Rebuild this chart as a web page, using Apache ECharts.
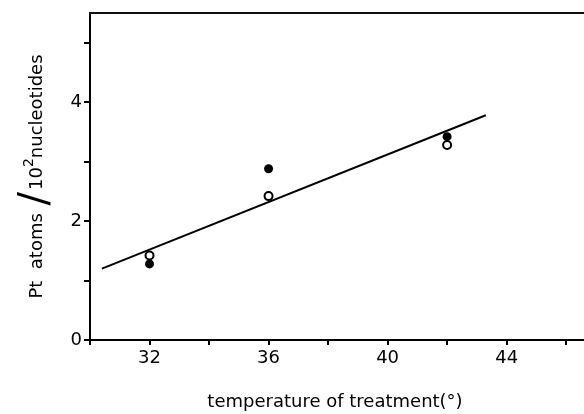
<!DOCTYPE html>
<html>
<head>
    <meta charset="UTF-8">
    <script src="https://cdn.jsdelivr.net/npm/echarts@6/dist/echarts.min.js"></script>
    <style>
        html, body { margin: 0; padding: 0; background: #fff; }
        #main { width: 584px; height: 414px; }
    </style>
</head>
<body>
    <div id="main"></div>
    <script>
        // temperature of treatment
        var temps = [32, 36, 42];
        var filledPt = [1.28, 2.88, 3.42];   // closed circles
        var openPt = [1.42, 2.42, 3.28];     // open circles
        // fitted line end points
        var fitX = [30.4, 43.3];
        var fitY = [1.2, 3.78];

        var xTicks = [30, 32, 34, 36, 38, 40, 42, 44, 46];
        var xLabels = [32, 36, 40, 44];
        var yTicks = [0, 1, 2, 3, 4, 5];
        var yLabels = [0, 2, 4];

        function pairs(xs, ys) {
            var out = [];
            for (var i = 0; i < xs.length; i++) out.push([xs[i], ys[i]]);
            return out;
        }

        var font = 'DejaVu Sans';
        var myChart = echarts.init(document.getElementById('main'));
        var option = {
            backgroundColor: '#fff',
            animation: false,
            grid: { left: 90, top: 13, right: 0, bottom: 74 },
            xAxis: [{
                type: 'value', min: 30, max: 46.6,
                axisLine: { lineStyle: { color: '#000', width: 2 } },
                axisTick: { customValues: xTicks, length: 5, lineStyle: { color: '#000', width: 2 } },
                axisLabel: { customValues: xLabels, color: '#000', fontFamily: font, fontSize: 18, margin: 9 },
                splitLine: { show: false }
            }, {
                type: 'value', position: 'top', min: 30, max: 46.6,
                axisLine: { show: true, lineStyle: { color: '#111', width: 2 } },
                axisTick: { show: false }, axisLabel: { show: false }, splitLine: { show: false }
            }],
            yAxis: {
                type: 'value', min: 0, max: 5.5,
                axisLine: { lineStyle: { color: '#000', width: 2 } },
                axisTick: { customValues: yTicks, length: 6, lineStyle: { color: '#000', width: 2 } },
                axisLabel: { customValues: yLabels, color: '#000', fontFamily: font, fontSize: 18, margin: 8 },
                splitLine: { show: false },
                name: '{a|Pt  atoms }{sl|/}{a|10}{sup|2}{a|nucleotides}',
                nameLocation: 'middle', nameRotate: 90, nameGap: 33,
                nameTextStyle: {
                    rich: {
                        a: { fontFamily: font, fontSize: 18, color: '#000' },
                        sl: { fontFamily: font, fontSize: 40, color: '#000', padding: [0, 2, 0, 2] },
                        sup: { fontFamily: font, fontSize: 14, color: '#000', padding: [0, 0, 16, 0] }
                    }
                }
            },
            graphic: [{
                type: 'text',
                style: {
                    x: 335, y: 402,
                    text: 'temperature of treatment(°)', fontFamily: font, fontSize: 18,
                    fill: '#000', align: 'center', verticalAlign: 'middle'
                }
            }],
            series: [{
                type: 'line', data: pairs(fitX, fitY), showSymbol: false,
                lineStyle: { color: '#000', width: 2 }
            }, {
                type: 'scatter', data: pairs(temps, filledPt), symbol: 'circle', symbolSize: 9,
                itemStyle: { color: '#000', opacity: 1 }
            }, {
                type: 'scatter', data: pairs(temps, openPt), symbol: 'circle', symbolSize: 8,
                itemStyle: { color: '#fff', borderColor: '#000', borderWidth: 2, opacity: 1 }
            }]
        };
        myChart.setOption(option);
    </script>
</body>
</html>
